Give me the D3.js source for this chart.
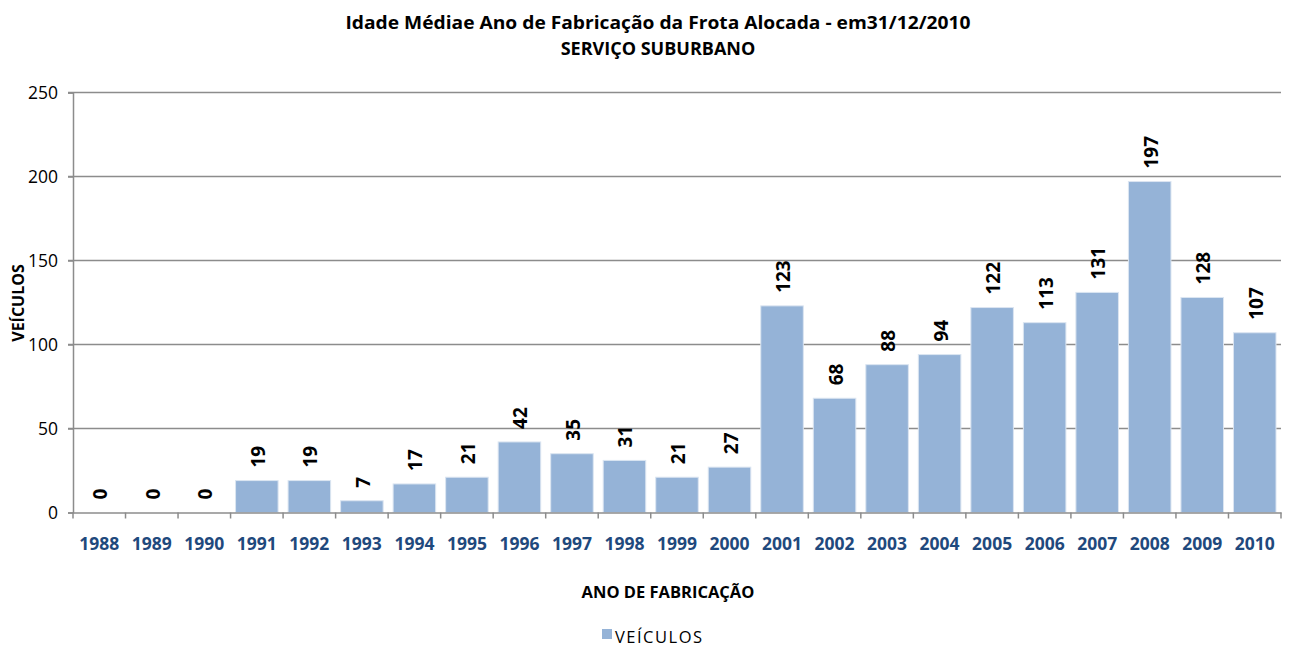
<!DOCTYPE html>
<html>
<head>
<meta charset="utf-8">
<script src="https://cdn.jsdelivr.net/npm/d3@7"></script>
<style>
  body { margin: 0; background: #fff; }
  text { font-family: "Open Sans", "Liberation Sans", sans-serif; }
</style>
</head>
<body>
<svg id="chart" width="1290" height="648"></svg>
<script>
// data
const years = ["1988","1989","1990","1991","1992","1993","1994","1995","1996","1997","1998","1999",
  "2000","2001","2002","2003","2004","2005","2006","2007","2008","2009","2010"];
const veiculos = [0,0,0,19,19,7,17,21,42,35,31,21,27,123,68,88,94,122,113,131,197,128,107];
const yTicks = [0,50,100,150,200,250];

const svg = d3.select("#chart");
const margin = {left: 73, right: 9, top: 92.5, bottom: 135.5};
const W = 1290, H = 648;

const x = d3.scaleBand()
    .domain(years)
    .range([margin.left, W - margin.right])
    .paddingInner(0.19)
    .paddingOuter(0.095);

const y = d3.scaleLinear()
    .domain([0, 250])
    .range([H - margin.bottom, margin.top]);

// gridlines
svg.append("g")
    .selectAll("line")
    .data(yTicks.filter(d => d > 0))
    .enter().append("line")
    .attr("x1", margin.left - 5)
    .attr("x2", W - margin.right)
    .attr("y1", d => y(d))
    .attr("y2", d => y(d))
    .attr("stroke", "#8c8c8c")
    .attr("stroke-width", 1.5);

// y axis
const yAxis = svg.append("g")
    .attr("transform", "translate(" + margin.left + ",0)")
    .call(d3.axisLeft(y).tickValues(yTicks).tickSize(5).tickPadding(10));
yAxis.select(".domain").attr("stroke", "#8c8c8c").attr("stroke-width", 1.5);
yAxis.selectAll(".tick line").attr("stroke", "#8c8c8c").attr("stroke-width", 1.5);
yAxis.selectAll(".tick text")
    .style("font-size", "17.5px")
    .attr("fill", "#000");

// bars
svg.append("g")
    .selectAll("rect")
    .data(veiculos)
    .enter().append("rect")
    .attr("x", (d, i) => x(years[i]))
    .attr("y", d => y(d))
    .attr("width", x.bandwidth())
    .attr("height", d => y(0) - y(d))
    .attr("fill", "#95b3d7")
    .attr("stroke", "#dbe5f1")
    .attr("stroke-width", 1);

// x axis
const xAxis = svg.append("g")
    .attr("transform", "translate(0," + y(0) + ")")
    .call(d3.axisBottom(x).tickSize(0).tickPadding(25));
xAxis.select(".domain").attr("stroke", "#8c8c8c").attr("stroke-width", 1.5);
xAxis.selectAll(".tick text")
    .style("font-size", "17.5px")
    .style("font-weight", "bold")
    .attr("fill", "#1f497d");

// category separator ticks
const step = x.step();
svg.append("g")
    .selectAll("line")
    .data(d3.range(years.length + 1))
    .enter().append("line")
    .attr("x1", i => margin.left + i * step)
    .attr("x2", i => margin.left + i * step)
    .attr("y1", y(0))
    .attr("y2", y(0) + 6)
    .attr("stroke", "#8c8c8c")
    .attr("stroke-width", 1.5);

// value labels
svg.append("g")
    .selectAll("text")
    .data(veiculos)
    .enter().append("text")
    .attr("transform", (d, i) => "translate(" + (x(years[i]) + x.bandwidth() / 2 + 8) + "," + (y(d) - 13) + ") rotate(-90)")
    .attr("text-anchor", "start")
    .style("font-size", "19px")
    .style("font-weight", "bold")
    .attr("fill", "#000")
    .text(d => d);

// titles
svg.append("text")
    .attr("x", 658).attr("y", 29)
    .attr("text-anchor", "middle")
    .style("font-size", "18px")
    .style("font-weight", "bold")
    .attr("textLength", 625)
    .attr("lengthAdjust", "spacingAndGlyphs")
    .text("Idade Médiae Ano de Fabricação da Frota Alocada - em31/12/2010");

svg.append("text")
    .attr("x", 658).attr("y", 55)
    .attr("text-anchor", "middle")
    .style("font-size", "18px")
    .style("font-weight", "bold")
    .text("SERVIÇO SUBURBANO");

svg.append("text")
    .attr("transform", "translate(24,303) rotate(-90)")
    .attr("text-anchor", "middle")
    .style("font-size", "16px")
    .style("font-weight", "bold")
    .text("VEÍCULOS");

svg.append("text")
    .attr("x", 668).attr("y", 598)
    .attr("text-anchor", "middle")
    .style("font-size", "16.5px")
    .style("font-weight", "bold")
    .text("ANO DE FABRICAÇÃO");

// legend
svg.append("rect")
    .attr("x", 602).attr("y", 629)
    .attr("width", 10).attr("height", 10)
    .attr("fill", "#95b3d7");
svg.append("text")
    .attr("x", 615).attr("y", 643)
    .style("font-size", "16.5px")
    .style("letter-spacing", "1.5px")
    .text("VEÍCULOS");
</script>
</body>
</html>
